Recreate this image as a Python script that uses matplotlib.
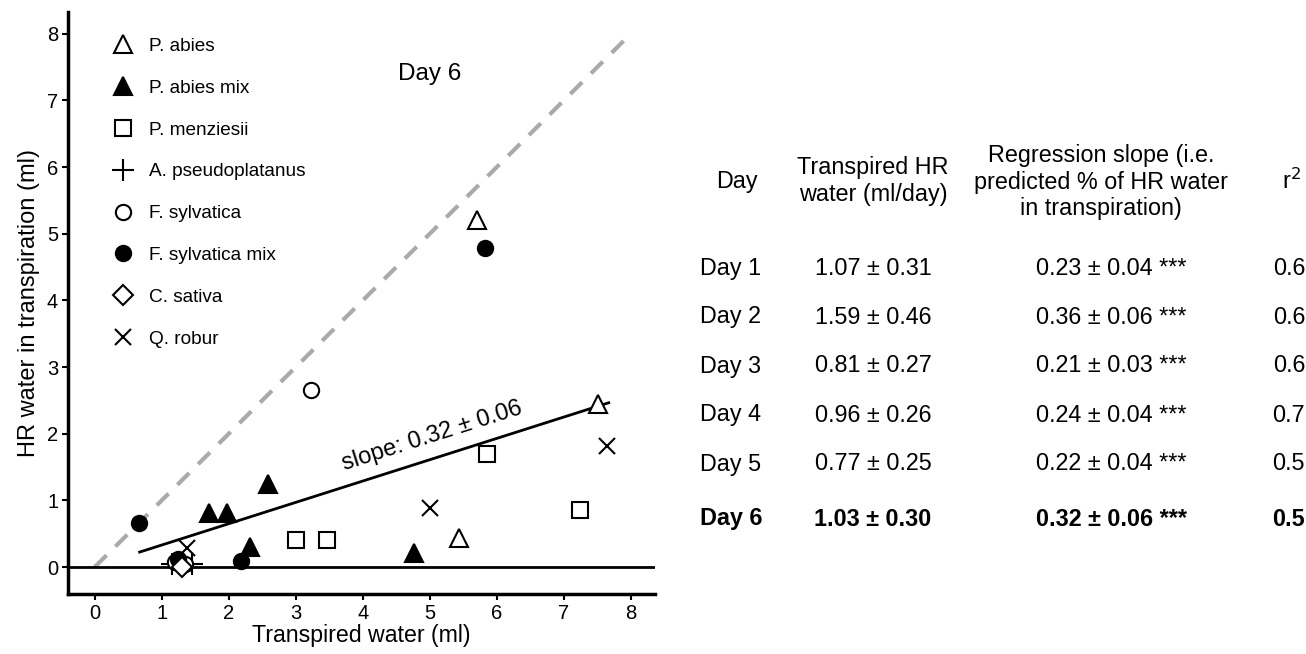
import matplotlib
matplotlib.use("Agg")
import matplotlib.pyplot as plt

plt.rcParams['font.family'] = ['Liberation Sans', 'DejaVu Sans']

# ---- data ----
species = ["P. abies", "P. abies mix", "P. menziesii", "A. pseudoplatanus",
           "F. sylvatica", "F. sylvatica mix", "C. sativa", "Q. robur"]
markers = ["^", "^", "s", "+", "o", "o", "D", "x"]
filled = [False, True, False, False, False, True, False, False]

abies_x = [5.70, 7.51, 5.43]
abies_y = [5.21, 2.45, 0.44]
abies_mix_x = [1.70, 1.97, 2.58, 2.31, 4.76]
abies_mix_y = [0.81, 0.81, 1.25, 0.30, 0.21]
menz_x = [3.01, 3.46, 5.85, 7.24]
menz_y = [0.41, 0.41, 1.70, 0.86]
pseudo_x = [1.15, 1.45]
pseudo_y = [0.05, 0.05]
sylv_x = [3.22, 1.20, 1.35]
sylv_y = [2.66, 0.07, 0.05]
sylv_mix_x = [0.66, 5.82, 2.18, 1.25]
sylv_mix_y = [0.66, 4.79, 0.09, 0.12]
sativa_x = [1.30]
sativa_y = [0.00]
robur_x = [5.00, 7.64, 1.37]
robur_y = [0.88, 1.81, 0.28]

series_x = [abies_x, abies_mix_x, menz_x, pseudo_x, sylv_x, sylv_mix_x, sativa_x, robur_x]
series_y = [abies_y, abies_mix_y, menz_y, pseudo_y, sylv_y, sylv_mix_y, sativa_y, robur_y]

reg_slope = 0.32
reg_intercept = 0.01
reg_x = [0.67, 7.67]
one_to_one = [0, 7.9]

xticks = [0, 1, 2, 3, 4, 5, 6, 7, 8]
yticks = [0, 1, 2, 3, 4, 5, 6, 7, 8]

days = ["Day 1", "Day 2", "Day 3", "Day 4", "Day 5", "Day 6"]
transp = ["1.07 ± 0.31", "1.59 ± 0.46", "0.81 ± 0.27", "0.96 ± 0.26", "0.77 ± 0.25", "1.03 ± 0.30"]
slopes = ["0.23 ± 0.04 ***", "0.36 ± 0.06 ***", "0.21 ± 0.03 ***", "0.24 ± 0.04 ***",
          "0.22 ± 0.04 ***", "0.32 ± 0.06 ***"]
r2 = ["0.6", "0.6", "0.6", "0.7", "0.5", "0.5"]

# ---- figure ----
fig = plt.figure(figsize=(13.06, 6.54), dpi=100)
ax = fig.add_axes([0.052, 0.0917, 0.4495, 0.8903])

ax.plot(one_to_one, one_to_one, color="#aaaaaa", lw=3, dashes=(4, 3), zorder=1)
ax.axhline(0, color="black", lw=2, zorder=1)
ax.plot(reg_x, [reg_slope * v + reg_intercept for v in reg_x], color="black", lw=2, zorder=2)

handles = []
for name, m, f, xs, ys in zip(species, markers, filled, series_x, series_y):
    ms = {"^": 13, "s": 11, "o": 11, "D": 10, "+": 16, "x": 12}[m]
    if m in ("+", "x"):
        h, = ax.plot(xs, ys, linestyle="none", marker=m, ms=ms, color="black",
                     mew=1.5, label=name, zorder=3)
    else:
        h, = ax.plot(xs, ys, linestyle="none", marker=m, ms=ms,
                     markerfacecolor="black" if f else "white",
                     markeredgecolor="black", mew=1.5, label=name, zorder=3)
    handles.append(h)

ax.set_xlim(-0.40, 8.36)
ax.set_ylim(-0.405, 8.33)
ax.set_xticks(xticks)
ax.set_yticks(yticks)
ax.tick_params(labelsize=14.5, length=4, width=1.5, colors="black", pad=3)
for s in ["top", "right"]:
    ax.spines[s].set_visible(False)
for s in ["left", "bottom"]:
    ax.spines[s].set_linewidth(2.5)

ax.set_xlabel("Transpired water (ml)", fontsize=16.7, labelpad=1)
ax.set_ylabel("HR water in transpiration (ml)", fontsize=17, labelpad=5)

leg = ax.legend(handles=handles, loc="upper left", bbox_to_anchor=(0.046, 0.982),
                frameon=False, fontsize=13.7, labelspacing=1.29, handletextpad=0.75,
                handlelength=1.3, borderaxespad=0.4)

ax.text(5.0, 7.39, "Day 6", fontsize=17.5, ha="center", va="center")
ax.text(5.03, 1.97, "slope: 0.32 ± 0.06", fontsize=17, ha="center", va="center",
        rotation=17.6, rotation_mode="anchor")

# ---- table ----
W, H = 1306, 654
def fx(px):
    return px / W
def fy(py):
    return 1 - py / H

col_day = 731
col_tr = 873
col_sl = 1111
col_r2_right = 1305
fs = 16.8

fig.text(fx(737), fy(181), "Day", fontsize=fs, ha="center", va="center")
fig.text(fx(873), fy(181), "Transpired HR\nwater (ml/day)", fontsize=fs, ha="center",
         va="center", linespacing=1.2)
fig.text(fx(1101), fy(182), "Regression slope (i.e.\npredicted % of HR water\nin transpiration)",
         fontsize=fs, ha="center", va="center", linespacing=1.2)
fig.text(fx(1291), fy(181), "r$^2$", fontsize=fs, ha="center", va="center")

row_y = [268, 317, 366, 415, 464, 519]
for i, (d, t, s, r) in enumerate(zip(days, transp, slopes, r2)):
    w = "bold" if i == len(days) - 1 else "normal"
    y = fy(row_y[i])
    fig.text(fx(col_day), y, d, fontsize=fs, ha="center", va="center", fontweight=w)
    fig.text(fx(col_tr), y, t, fontsize=fs, ha="center", va="center", fontweight=w)
    fig.text(fx(col_sl), y, s, fontsize=fs, ha="center", va="center", fontweight=w)
    fig.text(fx(col_r2_right), y, r, fontsize=fs, ha="right", va="center", fontweight=w)

fig.savefig("out.png", dpi=100)
